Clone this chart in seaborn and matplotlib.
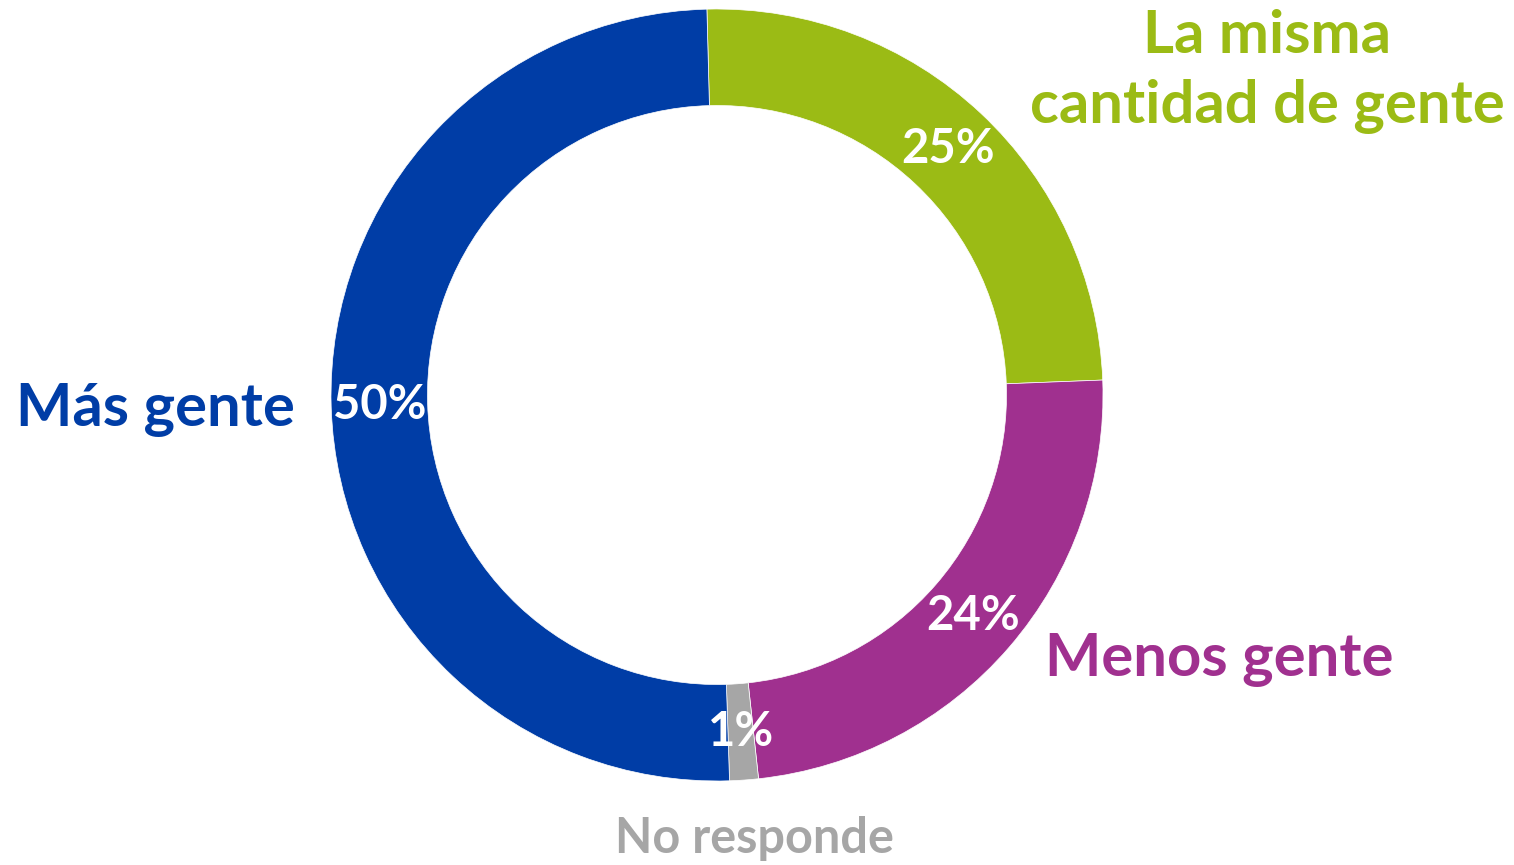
import matplotlib
matplotlib.use("Agg")
import matplotlib.pyplot as plt
import seaborn as sns
import numpy as np

# Data
categories = ["La misma\ncantidad de gente", "Menos gente", "No responde", "Más gente"]
values = [24.8, 23.9, 1.2, 50.1]
pct_labels = ["25%", "24%", "1%", "50%"]
colors = ["#9BBB15", "#A0308F", "#A6A6A6", "#003DA6"]

sns.set_theme(style="white")
plt.rcParams['font.family'] = ['Lato', 'DejaVu Sans']

W, H = 1514, 865
fig = plt.figure(figsize=(W / 100, H / 100), dpi=100)
cx, cy, R = 717, 395, 386
ax = fig.add_axes([(cx - R) / W, 1 - (cy + R) / H, 2 * R / W, 2 * R / H])

wedges, _ = ax.pie(values, colors=colors, startangle=91.5, counterclock=False,
                   radius=1.0, wedgeprops=dict(width=0.25, edgecolor="white", linewidth=0.5))

for w, lab in zip(wedges, pct_labels):
    mid = np.deg2rad((w.theta1 + w.theta2) / 2)
    ax.text(0.875 * np.cos(mid), 0.875 * np.sin(mid), lab, ha="center", va="center",
            color="white", fontsize=34, fontweight="bold")

label_pos = [(1.425, 0.837), (1.300, -0.687), (0.098, -1.148), (-1.456, -0.04)]
label_sizes = [43, 43, 35, 43]
for (x, y), cat, col, fs in zip(label_pos, categories, colors, label_sizes):
    ax.text(x, y, cat, ha="center", va="center", color=col, fontsize=fs,
            fontweight="bold", linespacing=1.36)

ax.set_xlim(-1, 1)
ax.set_ylim(-1, 1)
ax.set_aspect("equal")
ax.axis("off")

fig.savefig("out.png", dpi=100)
